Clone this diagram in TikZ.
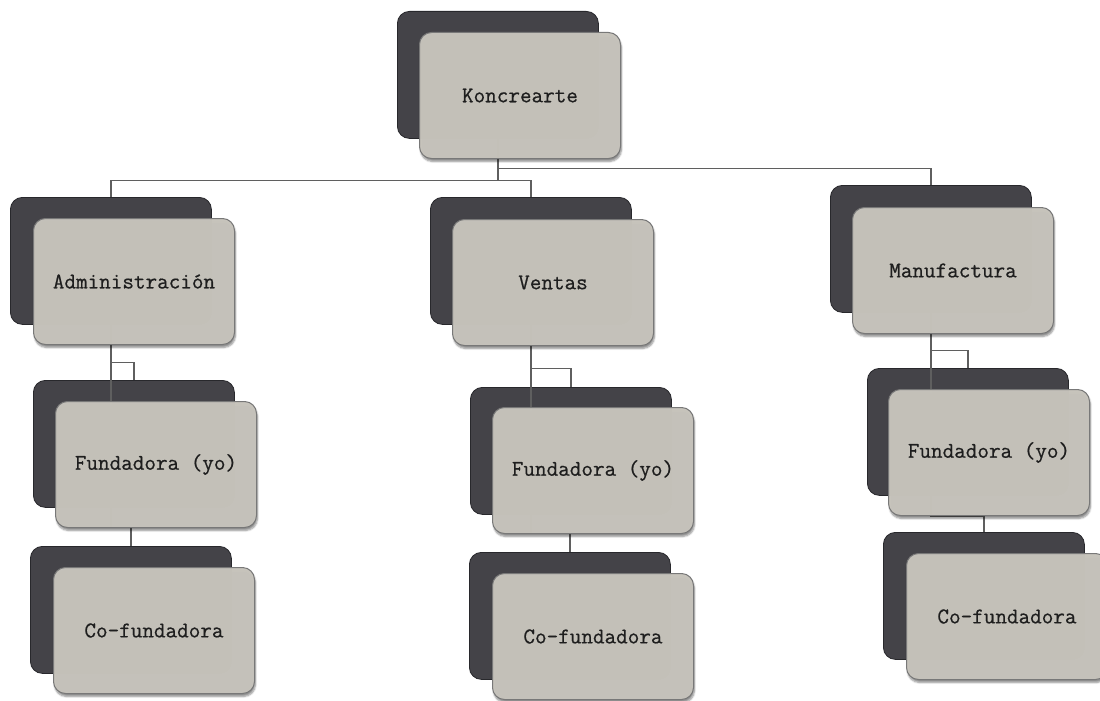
\documentclass[tikz,border=0pt]{standalone}
\usepackage{fontspec}
\newfontfamily\boxfont[FakeBold=0.6]{Latin Modern Mono}
\usetikzlibrary{shadows.blur}
\definecolor{darkfill}{RGB}{68,67,72}
\definecolor{darkline}{RGB}{40,40,44}
\definecolor{lightfill}{RGB}{198,195,187}
\definecolor{lightline}{RGB}{120,120,120}
\definecolor{conn}{RGB}{95,95,95}
\definecolor{txt}{RGB}{30,30,30}
\tikzset{
  darkbox/.style={draw=darkline, line width=0.8pt, fill=darkfill, rounded corners=12pt,
    minimum width=201pt, minimum height=127pt, anchor=north west, inner sep=0pt},
  lightbox/.style={draw=lightline, line width=1pt, fill=lightfill, fill opacity=0.985, text opacity=1,
    rounded corners=12pt, minimum width=201pt, minimum height=126pt, anchor=north west,
    inner sep=0pt, font=\boxfont\fontsize{22.5}{24}\selectfont, text=txt,
    blur shadow={shadow xshift=1pt, shadow yshift=-3pt, shadow blur steps=6, shadow opacity=45}},
  connline/.style={draw=conn, line width=1.3pt}
}
\begin{document}
\begin{tikzpicture}[x=1pt,y=-1pt]
\useasboundingbox (0,0) rectangle (1100,701);
\clip (0,0) rectangle (1100,701);
% dark boxes
\node[darkbox] (kd) at (397,11) {};
\node[darkbox] (ad) at (10,197) {};
\node[darkbox] (vd) at (430,197) {};
\node[darkbox] (md) at (830,185) {};
\node[darkbox] (fad) at (33,380) {};
\node[darkbox] (fvd) at (470,387) {};
\node[darkbox] (fmd) at (867,368) {};
\node[darkbox] (cad) at (30,546) {};
\node[darkbox] (cvd) at (469,552) {};
\node[darkbox] (cmd) at (883,532) {};
% connectors
\draw[connline] (kd.south) -- ++(0,42) -| (ad.north);
\draw[connline] (kd.south) ++(0,42) -| (vd.north);
\draw[connline] (kd.south) ++(0,30) -| (md.north);
\draw[connline] (ad.south) -- ++(0,38) -| (fad.north);
\draw[connline] (ad.south) -- ++(0,203) -| (cad.north);
\draw[connline] (vd.south) -- ++(0,44) -| (fvd.north);
\draw[connline] (vd.south) -- ++(0,209) -| (cvd.north);
\draw[connline] (md.south) -- ++(0,38) -| (fmd.north);
\draw[connline] (md.south) -- ++(0,204) -| (cmd.north);
% light boxes
\node[lightbox] (k) at (419,32) {Koncrearte};
\node[lightbox] (a) at (33,218) {Administración};
\node[lightbox] (v) at (452,219) {Ventas};
\node[lightbox] (m) at (852,207) {Manufactura};
\node[lightbox] (fa) at (55,401) {Fundadora (yo)};
\node[lightbox] (fv) at (492,407) {Fundadora (yo)};
\node[lightbox] (fm) at (888,389) {Fundadora (yo)};
\node[lightbox] (ca) at (53,567) {Co-fundadora};
\node[lightbox] (cv) at (492,573) {Co-fundadora};
\node[lightbox] (cm) at (906,553) {Co-fundadora};
\end{tikzpicture}
\end{document}
